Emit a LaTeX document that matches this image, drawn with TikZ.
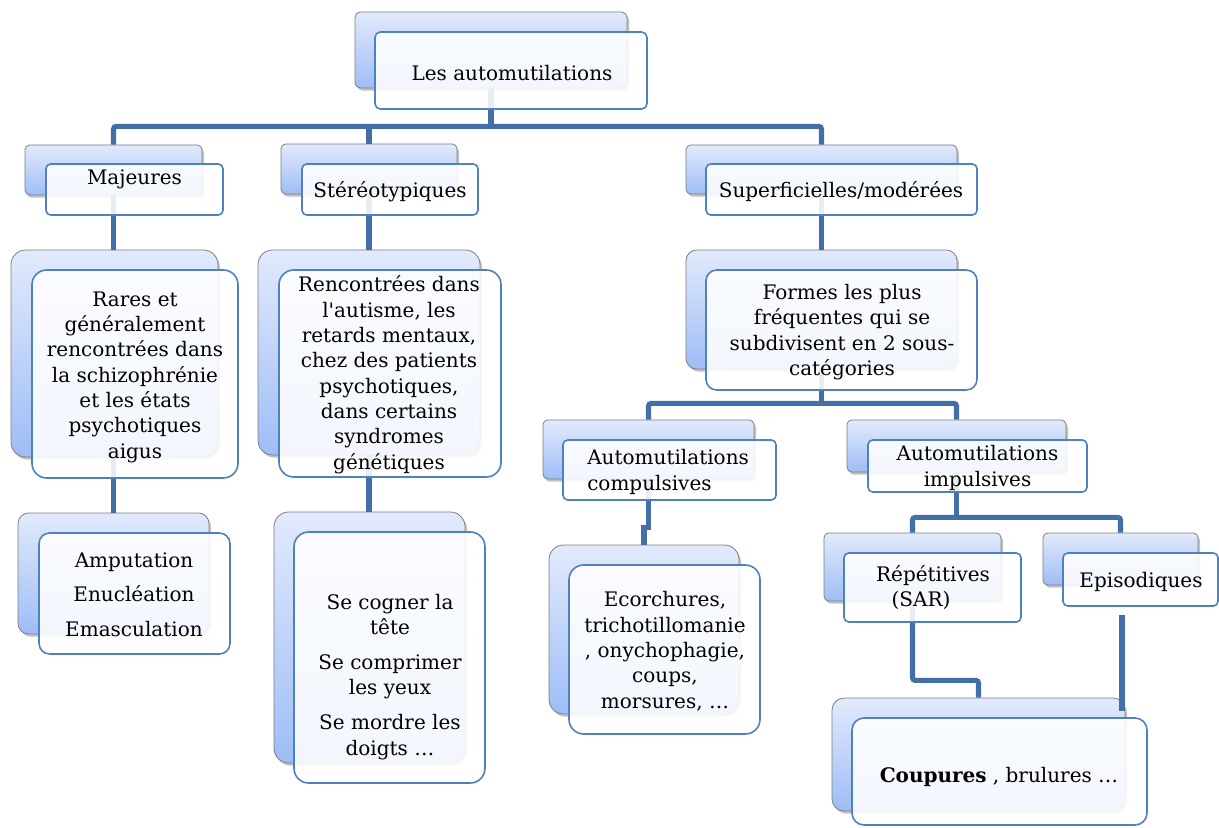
\documentclass[tikz,border=0pt]{standalone}
\usepackage{fontspec}
\setmainfont{DejaVu Serif}
\usetikzlibrary{fit,shadows,calc}
\definecolor{conncol}{RGB}{66,111,168}
\definecolor{frontcol}{RGB}{79,129,189}
\definecolor{backtop}{RGB}{226,234,252}
\definecolor{backbot}{RGB}{158,189,246}
\definecolor{backline}{RGB}{125,125,125}
\begin{document}
\begin{tikzpicture}[x=0.75pt,y=-0.75pt,
  backbox/.style={draw=backline, line width=0.6pt, top color=backtop, bottom color=backbot, inner sep=0pt,
    drop shadow={shadow xshift=1.5pt, shadow yshift=-2pt, opacity=0.4, fill=black!60}},
  frontbox/.style={draw=frontcol, line width=1.2pt, fill=white, fill opacity=0.88, inner sep=0pt},
  conn/.style={draw=conncol, line width=3.8pt, rounded corners=2pt},
  txt/.style={font=\fontsize{15}{19}\selectfont, align=center, inner sep=0pt, text=black}]
\useasboundingbox (0,0) rectangle (1219,827);
% back boxes
\node[backbox, rounded corners=4pt, fit={(355,12)(627,88)}] (bTop) {};
\node[backbox, rounded corners=3.5pt, fit={(25,145)(202,195)}] (bMaj) {};
\node[backbox, rounded corners=3.5pt, fit={(281,144)(457,194)}] (bSter) {};
\node[backbox, rounded corners=3.5pt, fit={(686,145)(957,194)}] (bSup) {};
\node[backbox, rounded corners=11pt, fit={(11,250)(218,457)}] (bRares) {};
\node[backbox, rounded corners=11pt, fit={(258,250)(480,455)}] (bRenc) {};
\node[backbox, rounded corners=8pt, fit={(686,250)(957,369)}] (bFormes) {};
\node[backbox, rounded corners=8pt, fit={(18,513)(209,634)}] (bAmp) {};
\node[backbox, rounded corners=11pt, fit={(274,512)(465,763)}] (bSecog) {};
\node[backbox, rounded corners=3.5pt, fit={(543,420)(754,479)}] (bComp) {};
\node[backbox, rounded corners=3.5pt, fit={(847,420)(1066,472)}] (bImpul) {};
\node[backbox, rounded corners=11pt, fit={(549,545)(739,714)}] (bEcor) {};
\node[backbox, rounded corners=3.5pt, fit={(824,533)(1001,601)}] (bRep) {};
\node[backbox, rounded corners=3.5pt, fit={(1043,533)(1198,585)}] (bEpi) {};
\node[backbox, rounded corners=9pt, fit={(832,698)(1125,811)}] (bCoup) {};
% connectors
\coordinate (jTop) at ($(bTop.south)+(0,38)$);
\draw[conn] (bTop.south) -- (jTop);
\draw[conn] (bMaj.north) |- (jTop) -| (bSup.north);
\draw[conn] (bSter.north) -- (bSter.north |- jTop);
\draw[conn] (bMaj.south) -- (bMaj.south |- bRares.north);
\draw[conn] (bAmp.north |- bRares.south) -- (bAmp.north);
\draw[conn] (bSter.south) -- (bSter.south |- bRenc.north);
\draw[conn] (bRenc.south) -- (bRenc.south |- bSecog.north);
\draw[conn] (bSup.south) -- (bSup.south |- bFormes.north);
\coordinate (jF) at ($(bFormes.south)+(0,34)$);
\draw[conn] (bFormes.south) -- (jF);
\draw[conn] (bComp.north) |- (jF) -| (bImpul.north);
\draw[conn, sharp corners, line join=miter] (bComp.south) -- ++(0,48) -| (bEcor.north);
\coordinate (jI) at ($(bImpul.south)+(0,45)$);
\draw[conn] (bImpul.south) -- (jI);
\draw[conn] (bRep.north) |- (jI) -| (bEpi.north);
\draw[conn] (bRep.south) -- ++(0,79) -| (bCoup.north);
\coordinate (eS) at ($(bEpi.south)+(1.5,30)$);
\coordinate (eE) at ($(bCoup.north east)+(-3,13)$);
\draw[conn] (eS) -- (eS |- eE);
% front boxes
\node[frontbox, rounded corners=4pt, fit={(375,32)(647,109)}] (fTop) {};
\node[frontbox, rounded corners=3.5pt, fit={(46,164)(223,215)}] (fMaj) {};
\node[frontbox, rounded corners=3.5pt, fit={(302,164)(478,215)}] (fSter) {};
\node[frontbox, rounded corners=3.5pt, fit={(706,164)(977,215)}] (fSup) {};
\node[frontbox, rounded corners=11pt, fit={(32,270)(238,478)}] (fRares) {};
\node[frontbox, rounded corners=11pt, fit={(279,270)(501,477)}] (fRenc) {};
\node[frontbox, rounded corners=8pt, fit={(706,270)(977,390)}] (fFormes) {};
\node[frontbox, rounded corners=8pt, fit={(39,533)(230,654)}] (fAmp) {};
\node[frontbox, rounded corners=11pt, fit={(294,532)(485,783)}] (fSecog) {};
\node[frontbox, rounded corners=3.5pt, fit={(563,440)(776,500)}] (fComp) {};
\node[frontbox, rounded corners=3.5pt, fit={(868,440)(1087,492)}] (fImpul) {};
\node[frontbox, rounded corners=11pt, fit={(569,565)(760,734)}] (fEcor) {};
\node[frontbox, rounded corners=3.5pt, fit={(844,553)(1021,622)}] (fRep) {};
\node[frontbox, rounded corners=3.5pt, fit={(1063,553)(1218,606)}] (fEpi) {};
\node[frontbox, rounded corners=9pt, fit={(852,718)(1147,825)}] (fCoup) {};
% texts
\node[txt] (tTop) at (512,75) {\strut Les automutilations\strut};
\node[txt] (tMaj) at (134.5,179) {\strut Majeures\strut};
\node[txt] (tSter) at (390,192) {\strut Stéréotypiques\strut};
\node[txt] (tSup) at (841,192) {\strut Superficielles/modérées\strut};
\node[txt] (tRares) at (135,377) {\strut Rares et\\généralement\\rencontrées dans\\la schizophrénie\\et les états\\psychotiques\\aigus\strut};
\node[txt] (tRenc) at (389,375.5) {\strut Rencontrées dans\\l\textquotesingle autisme, les\\retards mentaux,\\chez des patients\\psychotiques,\\dans certains\\syndromes\\génétiques\strut};
\node[txt] (tFormes) at (842,332.5) {\strut Formes les plus\\fréquentes qui se\\subdivisent en 2 sous-\\catégories\strut};
\node[txt] (tAmp) at (134,596.5) {\strut Amputation\\[6.9pt]Enucléation\\[6.9pt]Emasculation\strut};
\node[txt] (tSecog) at (390,677) {\strut Se cogner la\\tête\\[7.3pt]Se comprimer\\les yeux\\[7.3pt]Se mordre les\\doigts …\strut};
\node[txt, align=left, anchor=west] (tComp) at (587,472.5) {\strut Automutilations\\compulsives\strut};
\node[txt] (tImpul) at (977.5,468.5) {\strut Automutilations\\impulsives\strut};
\node[txt] (tEcor) at (665,652.5) {\strut Ecorchures,\\trichotillomanie\\, onychophagie,\\coups,\\morsures, …\strut};
\node[txt] (tRep) at (933,589) {\strut Répétitives\\(SAR)\hspace*{18pt}\strut};
\node[txt] (tEpi) at (1141,582) {\strut Episodiques\strut};
\node[txt] (tCoup) at (999,777) {\strut\textbf{Coupures} , brulures …\strut};
\end{tikzpicture}
\end{document}
